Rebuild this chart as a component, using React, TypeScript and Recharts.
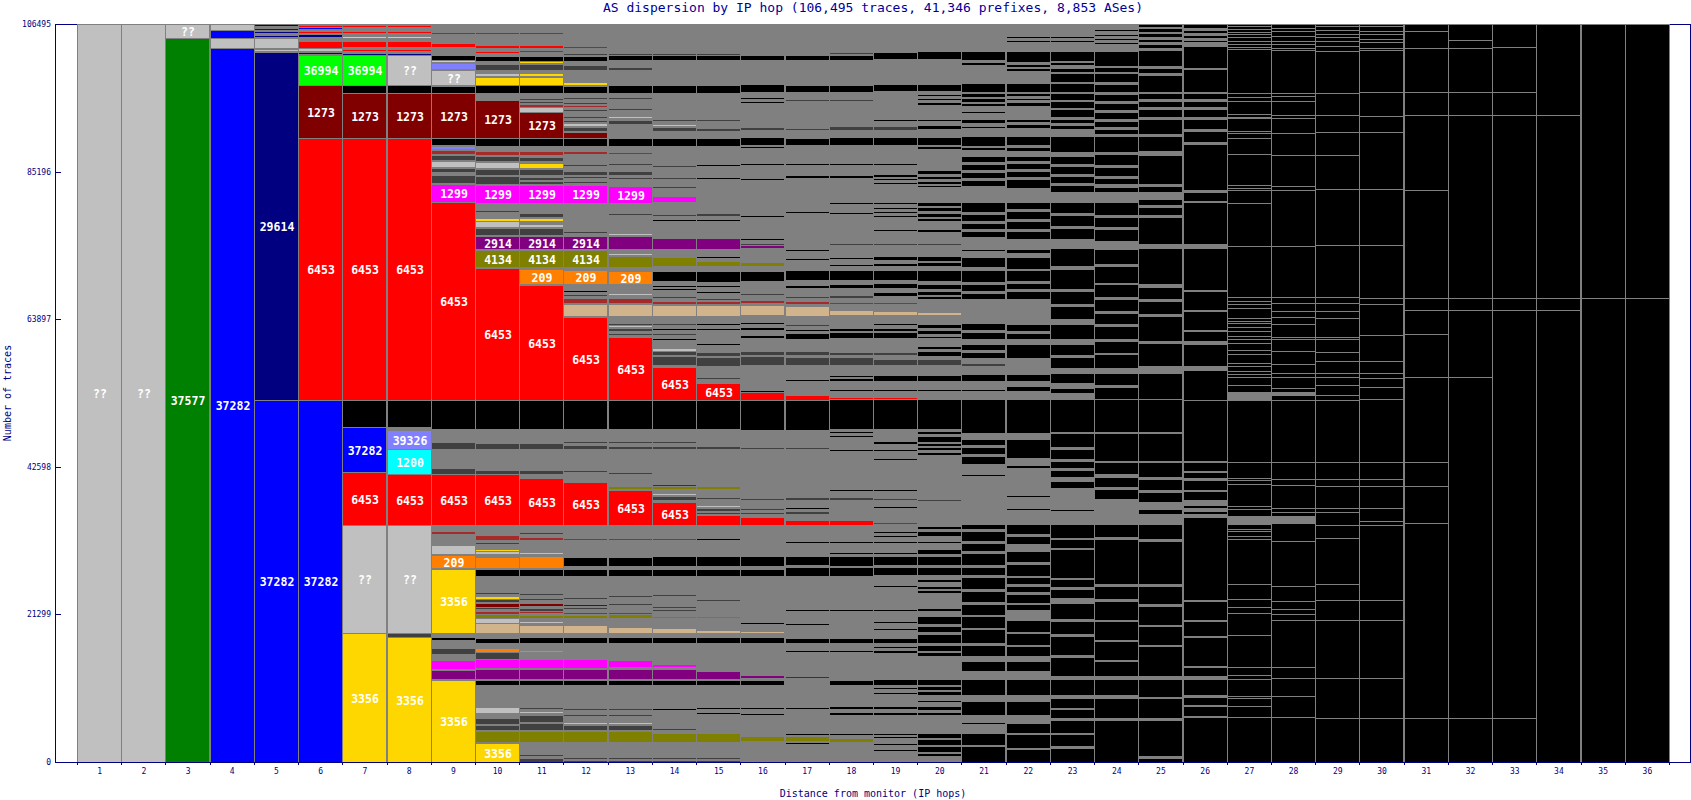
import { Bar, BarChart, XAxis, YAxis } from 'recharts';

if (typeof document !== 'undefined') document.body.style.margin = '0';

type Seg = [string, number, string?];

const palette: Record<string, string> = {
  L: '#c0c0c0', G: '#808080', D: '#404040', K: '#000000', R: '#ff0000',
  DR: '#800000', BR: '#a52a2a', Y: '#ffd700', B: '#0000ff', N: '#000080',
  GR: '#008000', LG: '#00ff00', M: '#ff00ff', P: '#800080', O: '#808000',
  OR: '#ff8000', T: '#d2b48c', LB: '#8080ff', C: '#00ffff',
};

const hopLabels = ['1', '2', '3', '4', '5', '6', '7', '8', '9', '10', '11', '12', '13', '14', '15', '16', '17', '18',
  '19', '20', '21', '22', '23', '24', '25', '26', '27', '28', '29', '30', '31', '32', '33', '34', '35', '36'];
const yTicks = [0, 21299, 42598, 63897, 85196, 106495];

// segments listed top -> bottom: [colour, traces, AS label]
const hop1: Seg[] = [['L', 106495, '??']];
const hop2: Seg[] = [['L', 106495, '??']];
const hop3: Seg[] = [['L', 2020, '??'], ['GR', 104475, '37577']];
const hop4: Seg[] = [['L', 920], ['B', 1100], ['L', 1440], ['B', 103030, '37282']];
const hop5: Seg[] = [['N', 250], ['G', 330], ['B', 250], ['G', 250], ['N', 230], ['G', 250], ['N', 390], ['G', 90],
  ['L', 1440], ['G', 140], ['L', 350], ['G', 140], ['N', 50120, '29614'], ['B', 52280, '37282']];
const hop6: Seg[] = [['G', 100], ['R', 290], ['G', 100], ['B', 290], ['G', 220], ['R', 290], ['G', 220], ['N', 430],
  ['G', 580], ['R', 910], ['G', 100], ['L', 430], ['G', 140], ['N', 290], ['G', 90], ['LG', 4390, '36994'],
  ['DR', 7590, '1273'], ['R', 37760, '6453'], ['B', 52280, '37282']];
const hop7: Seg[] = [['G', 170], ['R', 290], ['G', 580], ['R', 290], ['G', 430], ['Y', 290], ['G', 460], ['R', 870],
  ['G', 260], ['R', 290], ['G', 290], ['N', 260], ['LG', 4390, '36994'], ['K', 1100], ['DR', 6490, '1273'],
  ['R', 37760, '6453'], ['K', 3900], ['B', 6490, '37282'], ['R', 7650, '6453'], ['L', 15580, '??'], ['Y', 18660, '3356']];
const hop8: Seg[] = [['G', 170], ['R', 290], ['G', 580], ['R', 290], ['G', 430], ['Y', 290], ['G', 460], ['R', 870],
  ['G', 260], ['R', 290], ['G', 290], ['N', 260], ['L', 4390, '??'], ['K', 1100], ['DR', 6490, '1273'],
  ['R', 37760, '6453'], ['K', 3900], ['G', 430], ['LB', 2740, '39326'], ['C', 3610, '1200'], ['R', 7360, '6453'],
  ['L', 15580, '??'], ['D', 620], ['Y', 18040, '3356']];
const hop9: Seg[] = [['G', 1150], ['R', 290], ['G', 1360], ['R', 520], ['G', 1210], ['K', 720], ['Y', 290], ['G', 90],
  ['LB', 920], ['G', 140], ['L', 2110, '??'], ['G', 100], ['K', 1010], ['G', 100], ['DR', 6440, '1273'], ['K', 1070],
  ['G', 140], ['LB', 430], ['G', 140], ['BR', 520], ['G', 200], ['D', 660], ['G', 200], ['L', 810], ['G', 140],
  ['D', 580], ['G', 490], ['D', 1050], ['G', 250], ['M', 2600, '1299'], ['R', 28470, '6453'], ['K', 4180], ['G', 1980],
  ['D', 910], ['G', 2600], ['L', 140], ['D', 870], ['R', 7360, '6453'], ['G', 870], ['BR', 430], ['G', 1590],
  ['L', 1300], ['G', 140], ['OR', 1880, '209'], ['G', 140], ['Y', 9240, '3356'], ['G', 580], ['K', 530], ['G', 1050],
  ['D', 870], ['G', 870], ['M', 1300], ['G', 140], ['P', 1300], ['G', 140], ['Y', 11880, '3356']];
const hop10: Seg[] = [['G', 1150], ['R', 290], ['G', 1590], ['R', 390], ['G', 360], ['R', 290], ['G', 460], ['K', 720],
  ['G', 430], ['D', 910], ['G', 360], ['L', 510], ['G', 100], ['Y', 1240], ['K', 1150], ['G', 970], ['DR', 5530, '1273'],
  ['K', 1110], ['G', 720], ['BR', 580], ['G', 140], ['D', 720], ['G', 140], ['L', 870], ['G', 140], ['D', 870],
  ['G', 140], ['D', 1150], ['G', 140], ['M', 2600, '1299'], ['G', 970], ['D', 380], ['G', 780], ['Y', 480], ['L', 820],
  ['G', 230], ['D', 970], ['G', 140], ['P', 1830, '2914'], ['G', 140], ['O', 2450, '4134'], ['G', 140],
  ['R', 19090, '6453'], ['K', 4180], ['G', 2060], ['D', 820], ['G', 2990], ['D', 660], ['R', 7320, '6453'], ['G', 680],
  ['P', 230], ['G', 530], ['BR', 720], ['G', 250], ['D', 330], ['G', 720], ['Y', 290], ['L', 430], ['G', 390],
  ['OR', 1670], ['G', 100], ['K', 1010], ['G', 2380], ['D', 290], ['G', 220], ['Y', 510], ['D', 360], ['G', 220],
  ['DR', 510], ['D', 360], ['G', 220], ['BR', 430], ['O', 650], ['L', 720], ['T', 1410], ['G', 630], ['K', 810],
  ['G', 750], ['OR', 580], ['D', 980], ['M', 1300], ['G', 100], ['P', 1440], ['G', 140], ['K', 720], ['G', 3250],
  ['L', 840], ['G', 630], ['D', 950], ['G', 100], ['D', 760], ['G', 100], ['O', 1630], ['G', 140], ['Y', 2740, '3356']];
const hop11: Seg[] = [['G', 1150], ['R', 290], ['G', 1590], ['R', 390], ['G', 360], ['R', 290], ['G', 460], ['K', 720],
  ['G', 120], ['Y', 290], ['G', 70], ['D', 870], ['G', 430], ['Y', 430], ['G', 220], ['Y', 1130], ['K', 1150],
  ['G', 680], ['D', 290], ['G', 140], ['D', 290], ['G', 220], ['BR', 360], ['L', 680], ['DR', 3840, '1273'],
  ['K', 1110], ['G', 790], ['BR', 510], ['G', 290], ['D', 580], ['G', 290], ['Y', 720], ['G', 140], ['D', 870],
  ['G', 290], ['D', 360], ['G', 140], ['D', 510], ['G', 140], ['M', 2600, '1299'], ['G', 1440], ['D', 530], ['G', 140],
  ['Y', 480], ['G', 430], ['L', 430], ['G', 190], ['D', 970], ['G', 140], ['P', 1830, '2914'], ['G', 140],
  ['O', 2450, '4134'], ['G', 290], ['OR', 2210, '209'], ['G', 140], ['R', 16590, '6453'], ['K', 4180], ['G', 2060],
  ['D', 820], ['G', 3030], ['D', 620], ['G', 580], ['R', 6740, '6453'], ['G', 1010], ['D', 290], ['G', 430],
  ['BR', 430], ['G', 1800], ['L', 290], ['G', 320], ['OR', 1670], ['G', 140], ['K', 970], ['G', 2450], ['D', 290],
  ['G', 430], ['D', 290], ['G', 510], ['DR', 430], ['G', 220], ['D', 430], ['BR', 290], ['G', 290], ['O', 510],
  ['G', 430], ['L', 290], ['G', 220], ['T', 1200], ['G', 630], ['K', 810], ['G', 1040], ['OR', 290], ['G', 980],
  ['M', 1300], ['G', 100], ['P', 1440], ['G', 140], ['K', 720], ['G', 3170], ['D', 290], ['G', 360], ['L', 290],
  ['G', 220], ['D', 1010], ['G', 140], ['D', 1010], ['G', 140], ['O', 1630], ['G', 1760], ['D', 290], ['G', 220],
  ['D', 620]];
const hop12: Seg[] = [['G', 3130], ['R', 290], ['G', 720], ['D', 290], ['G', 100], ['K', 720], ['G', 580], ['D', 760],
  ['G', 1690], ['Y', 480], ['G', 140], ['K', 1010], ['G', 650], ['D', 290], ['G', 430], ['D', 290], ['G', 140],
  ['BR', 290], ['G', 290], ['D', 290], ['G', 720], ['D', 290], ['G', 220], ['D', 290], ['G', 190], ['L', 390],
  ['G', 100], ['D', 620], ['G', 100], ['DR', 950], ['K', 1110], ['G', 790], ['BR', 430], ['G', 1440], ['D', 290],
  ['G', 650], ['D', 580], ['G', 220], ['D', 290], ['G', 360], ['D', 360], ['G', 220], ['M', 2600, '1299'], ['G', 4110],
  ['D', 290], ['G', 360], ['P', 1830, '2914'], ['G', 140], ['O', 2450, '4134'], ['G', 430], ['OR', 2060, '209'],
  ['G', 870], ['K', 290], ['G', 290], ['D', 290], ['G', 330], ['BR', 630], ['G', 230], ['T', 1650], ['G', 230],
  ['R', 11930, '6453'], ['K', 4180], ['G', 1730], ['D', 290], ['G', 290], ['D', 580], ['G', 3030], ['D', 360],
  ['G', 1410], ['R', 6160, '6453'], ['G', 1880], ['BR', 290], ['G', 2410], ['K', 1340], ['G', 430], ['K', 1010],
  ['G', 3030], ['D', 360], ['G', 650], ['DR', 290], ['G', 140], ['D', 290], ['G', 430], ['BR', 290], ['G', 140],
  ['O', 510], ['G', 1040], ['T', 1100], ['G', 630], ['K', 810], ['G', 2310], ['M', 1300], ['G', 100], ['P', 1440],
  ['G', 140], ['K', 720], ['G', 3320], ['D', 290], ['G', 580], ['D', 290], ['G', 940], ['L', 220], ['G', 140],
  ['D', 720], ['G', 140], ['O', 1630], ['G', 2120], ['D', 360], ['G', 70], ['D', 330]];
const hop13: Seg[] = [['G', 4210], ['D', 220], ['G', 100], ['K', 720], ['G', 910], ['D', 430], ['G', 2210], ['K', 1110],
  ['G', 650], ['D', 220], ['G', 430], ['D', 220], ['G', 650], ['D', 290], ['G', 870], ['L', 290], ['G', 290],
  ['D', 580], ['G', 2060], ['K', 1110], ['G', 870], ['BR', 290], ['G', 1370], ['D', 290], ['G', 790], ['D', 580],
  ['G', 290], ['D', 290], ['G', 970], ['M', 2500, '1299'], ['G', 1490], ['D', 290], ['G', 2630], ['L', 220], ['G', 140],
  ['P', 1880], ['G', 530], ['L', 330], ['G', 140], ['O', 1540], ['G', 620], ['OR', 1880, '209'], ['G', 1300],
  ['L', 250], ['D', 260], ['G', 260], ['BR', 630], ['G', 230], ['T', 1650], ['G', 1050], ['D', 290], ['G', 70],
  ['L', 220], ['G', 140], ['D', 430], ['G', 290], ['D', 290], ['G', 250], ['R', 9130, '6453'], ['K', 4180], ['G', 1730],
  ['D', 290], ['G', 430], ['D', 430], ['G', 3320], ['D', 290], ['G', 1590], ['P', 220], ['O', 430], ['G', 70],
  ['R', 5050, '6453'], ['G', 1880], ['BR', 290], ['G', 2410], ['K', 1340], ['G', 430], ['K', 1010], ['G', 2740],
  ['D', 360], ['G', 790], ['D', 290], ['G', 1080], ['BR', 220], ['O', 650], ['G', 1330], ['T', 810], ['G', 630],
  ['K', 810], ['G', 2510], ['M', 950], ['G', 350], ['P', 1340], ['G', 140], ['K', 720], ['G', 3320], ['D', 290],
  ['G', 580], ['D', 290], ['G', 940], ['L', 220], ['G', 140], ['D', 720], ['G', 140], ['O', 1630], ['G', 2120],
  ['D', 360], ['G', 70], ['D', 330]];
const hop14: Seg[] = [['G', 4210], ['D', 220], ['G', 100], ['K', 720], ['G', 3550], ['K', 1110], ['G', 720], ['D', 220],
  ['G', 360], ['D', 220], ['G', 790], ['D', 220], ['G', 1230], ['D', 360], ['G', 360], ['L', 290], ['G', 140],
  ['D', 580], ['G', 1050], ['K', 1110], ['G', 1010], ['BR', 220], ['G', 1590], ['D', 220], ['G', 1440], ['D', 360],
  ['G', 940], ['D', 290], ['G', 1260], ['M', 870], ['G', 1630], ['D', 360], ['G', 430], ['K', 220], ['G', 2500],
  ['P', 1590], ['G', 1210], ['O', 1300], ['G', 720], ['K', 1440], ['G', 550], ['K', 220], ['G', 220], ['K', 220],
  ['G', 870], ['D', 290], ['G', 430], ['BR', 430], ['G', 140], ['T', 1590], ['G', 1010], ['D', 290], ['G', 430],
  ['K', 290], ['G', 430], ['D', 290], ['G', 430], ['K', 290], ['G', 1150], ['L', 430], ['G', 100], ['D', 580],
  ['G', 140], ['D', 1300], ['G', 190], ['R', 4760, '6453'], ['K', 4180], ['G', 1730], ['D', 290], ['G', 430], ['D', 430],
  ['G', 5120], ['P', 220], ['O', 510], ['G', 580], ['L', 290], ['G', 140], ['D', 580], ['G', 220], ['R', 3320, '6453'],
  ['G', 1880], ['BR', 290], ['G', 2410], ['K', 1340], ['G', 430], ['K', 1010], ['G', 2600], ['D', 290], ['G', 1440],
  ['D', 290], ['G', 140], ['D', 290], ['G', 720], ['O', 290], ['G', 1490], ['T', 720], ['G', 630], ['K', 810],
  ['G', 3060], ['M', 400], ['G', 350], ['P', 1340], ['G', 140], ['K', 720], ['G', 3390], ['K', 220], ['G', 430],
  ['K', 220], ['G', 1950], ['D', 290], ['G', 430], ['O', 1340], ['G', 2190], ['D', 220], ['G', 220], ['D', 260]];
const hop15: Seg[] = [['G', 4210], ['D', 220], ['G', 100], ['K', 720], ['G', 3550], ['K', 1110], ['G', 720], ['D', 220],
  ['G', 360], ['D', 220], ['G', 790], ['D', 220], ['G', 1230], ['D', 290], ['G', 1010], ['D', 430], ['G', 720],
  ['D', 220], ['G', 120], ['K', 1110], ['G', 140], ['K', 220], ['G', 2240], ['K', 290], ['G', 1590], ['K', 290],
  ['G', 4950], ['D', 460], ['G', 430], ['K', 220], ['G', 2500], ['P', 1590], ['G', 1040], ['K', 260], ['G', 390],
  ['O', 820], ['G', 720], ['K', 1490], ['G', 510], ['K', 220], ['G', 580], ['K', 290], ['G', 720], ['D', 290],
  ['G', 140], ['BR', 430], ['G', 140], ['T', 1590], ['G', 1010], ['K', 290], ['G', 430], ['K', 290], ['G', 1880],
  ['K', 290], ['G', 970], ['D', 620], ['G', 100], ['D', 1300], ['G', 1340], ['D', 220], ['G', 140], ['D', 220],
  ['G', 620], ['R', 2410, '6453'], ['K', 4180], ['G', 1730], ['D', 220], ['G', 510], ['D', 430], ['G', 5190], ['P', 220],
  ['O', 430], ['G', 1150], ['D', 290], ['G', 870], ['L', 220], ['G', 140], ['D', 430], ['G', 140], ['D', 360], ['G', 70],
  ['R', 1440], ['G', 1950], ['K', 220], ['G', 2410], ['K', 1340], ['G', 430], ['K', 1010], ['G', 3320], ['D', 290],
  ['G', 2160], ['O', 290], ['G', 1730], ['T', 480], ['G', 630], ['K', 810], ['G', 4000], ['P', 1150], ['G', 140],
  ['K', 720], ['G', 3250], ['K', 220], ['G', 430], ['K', 290], ['G', 2810], ['O', 1270], ['G', 2190], ['D', 220],
  ['G', 220], ['D', 260]];
const hop16: Seg[] = [['G', 4210], ['D', 220], ['G', 100], ['K', 720], ['G', 3550], ['K', 1110], ['G', 720], ['K', 220],
  ['G', 360], ['K', 220], ['G', 3540], ['D', 430], ['G', 1050], ['K', 1110], ['G', 140], ['K', 220], ['G', 2240],
  ['K', 220], ['G', 1590], ['K', 220], ['G', 140], ['K', 290], ['G', 3250], ['K', 220], ['G', 1230], ['K', 220],
  ['G', 140], ['K', 220], ['G', 3100], ['K', 220], ['G', 510], ['D', 290], ['P', 360], ['G', 2020], ['O', 610],
  ['G', 720], ['K', 1490], ['G', 510], ['K', 220], ['G', 1010], ['D', 290], ['G', 720], ['BR', 360], ['G', 290],
  ['T', 1520], ['G', 1010], ['K', 290], ['G', 430], ['K', 430], ['G', 650], ['K', 510], ['G', 1880], ['D', 530],
  ['G', 190], ['D', 1260], ['G', 1200], ['K', 220], ['G', 220], ['K', 220], ['G', 1760], ['K', 190], ['G', 100],
  ['R', 1050], ['K', 4330], ['G', 2450], ['D', 290], ['G', 5920], ['K', 220], ['G', 940], ['D', 290], ['G', 1150],
  ['D', 290], ['G', 290], ['D', 290], ['G', 510], ['R', 1080], ['G', 2310], ['K', 220], ['G', 2050], ['K', 1340],
  ['G', 430], ['K', 1010], ['G', 4760], ['K', 220], ['G', 1730], ['K', 220], ['G', 1010], ['T', 330], ['G', 630],
  ['K', 810], ['G', 4430], ['D', 220], ['P', 430], ['G', 220], ['K', 720], ['G', 3250], ['K', 220], ['G', 580],
  ['K', 290], ['G', 2740], ['K', 220], ['G', 140], ['O', 720], ['G', 3000]];
const hop17: Seg[] = [['G', 4180], ['D', 250], ['G', 100], ['K', 720], ['G', 3610], ['K', 1010], ['G', 720], ['D', 190],
  ['G', 140], ['D', 220], ['G', 3870], ['D', 390], ['G', 1050], ['K', 1110], ['G', 2600], ['K', 250], ['G', 1440],
  ['K', 380], ['G', 3610], ['K', 250], ['G', 970], ['K', 230], ['G', 4470], ['D', 200], ['G', 620], ['K', 220],
  ['G', 980], ['K', 250], ['G', 720], ['K', 250], ['G', 580], ['K', 1440], ['G', 620], ['K', 480], ['G', 1110],
  ['D', 330], ['G', 490], ['BR', 330], ['G', 390], ['T', 1340], ['G', 1230], ['D', 220], ['G', 480], ['K', 350],
  ['G', 230], ['K', 820], ['G', 1830], ['D', 580], ['G', 290], ['D', 1150], ['G', 1490], ['K', 220], ['G', 260],
  ['K', 350], ['G', 1340], ['K', 220], ['G', 360], ['R', 720], ['K', 4330], ['G', 2550], ['D', 230], ['G', 5770],
  ['K', 200], ['G', 1010], ['D', 430], ['G', 950], ['K', 250], ['G', 390], ['D', 330], ['G', 870], ['R', 720],
  ['G', 1590], ['K', 220], ['G', 610], ['K', 230], ['G', 1930], ['K', 1300], ['G', 290], ['K', 1200], ['G', 4760],
  ['K', 290], ['G', 1770], ['K', 250], ['G', 870], ['T', 250], ['G', 810], ['K', 720], ['G', 1070], ['K', 230],
  ['G', 3520], ['P', 290], ['G', 4080], ['K', 330], ['G', 390], ['K', 220], ['G', 2860], ['K', 350], ['G', 140],
  ['O', 720], ['G', 140], ['K', 190], ['G', 2640]];
const hop18: Seg[] = [['G', 4180], ['D', 250], ['G', 100], ['K', 720], ['G', 3610], ['K', 1010], ['G', 720], ['D', 190],
  ['G', 140], ['D', 220], ['G', 3640], ['D', 620], ['G', 1050], ['K', 1110], ['G', 2600], ['K', 250], ['G', 1440],
  ['K', 380], ['G', 140], ['K', 200], ['G', 3260], ['K', 250], ['G', 620], ['K', 250], ['G', 290], ['K', 220],
  ['G', 140], ['K', 220], ['G', 3900], ['D', 290], ['G', 1630], ['K', 390], ['G', 620], ['K', 350], ['G', 580],
  ['K', 1440], ['G', 620], ['K', 530], ['G', 1050], ['D', 330], ['G', 630], ['BR', 260], ['G', 890], ['T', 760],
  ['G', 1920], ['K', 350], ['G', 230], ['K', 820], ['G', 1110], ['K', 230], ['G', 630], ['D', 430], ['G', 380],
  ['D', 1070], ['G', 1490], ['K', 250], ['G', 230], ['K', 350], ['G', 1200], ['K', 250], ['G', 810], ['R', 390],
  ['K', 4330], ['G', 250], ['K', 230], ['G', 350], ['K', 230], ['G', 720], ['K', 250], ['G', 870], ['K', 290],
  ['G', 5480], ['K', 220], ['G', 940], ['D', 430], ['G', 910], ['K', 250], ['G', 480], ['D', 250], ['G', 1010],
  ['R', 580], ['G', 1590], ['K', 220], ['G', 610], ['K', 230], ['G', 1360], ['K', 230], ['G', 350], ['K', 1340],
  ['G', 250], ['K', 1200], ['G', 2160], ['K', 220], ['G', 2380], ['K', 390], ['G', 2540], ['K', 200], ['G', 1100],
  ['K', 720], ['G', 390], ['K', 220], ['G', 460], ['K', 230], ['G', 3320], ['D', 200], ['G', 480], ['K', 720],
  ['G', 720], ['K', 250], ['G', 2160], ['K', 380], ['G', 390], ['K', 430], ['G', 2640], ['K', 350], ['G', 380],
  ['O', 580], ['G', 140], ['K', 170], ['G', 2570]];
const hop19: Seg[] = [['G', 4180], ['K', 1070], ['G', 3610], ['K', 1010], ['G', 480], ['K', 220], ['G', 360], ['K', 220],
  ['G', 220], ['K', 220], ['G', 2240], ['K', 250], ['G', 720], ['D', 620], ['G', 1050], ['K', 1110], ['G', 2600],
  ['K', 250], ['G', 1340], ['K', 480], ['G', 140], ['K', 200], ['G', 380], ['K', 250], ['G', 2640], ['K', 250],
  ['G', 430], ['K', 290], ['G', 290], ['K', 290], ['G', 290], ['K', 290], ['G', 1730], ['K', 250], ['G', 1770],
  ['D', 290], ['G', 1630], ['K', 490], ['G', 480], ['K', 390], ['G', 580], ['K', 1440], ['G', 480], ['K', 720],
  ['G', 620], ['K', 490], ['G', 870], ['BR', 260], ['G', 1130], ['T', 530], ['G', 1150], ['K', 250], ['G', 520],
  ['K', 350], ['G', 230], ['K', 820], ['G', 1110], ['K', 230], ['G', 720], ['D', 350], ['G', 620], ['D', 820],
  ['G', 1490], ['K', 820], ['G', 1200], ['K', 250], ['G', 910], ['R', 290], ['K', 4330], ['G', 250], ['K', 230],
  ['G', 350], ['K', 230], ['G', 720], ['K', 390], ['G', 250], ['K', 230], ['G', 250], ['K', 290], ['G', 1050],
  ['K', 250], ['G', 4180], ['K', 220], ['G', 1040], ['D', 290], ['G', 950], ['K', 250], ['G', 480], ['D', 250],
  ['G', 1200], ['R', 390], ['G', 970], ['K', 330], ['G', 290], ['K', 220], ['G', 610], ['K', 230], ['G', 1360],
  ['K', 230], ['G', 350], ['K', 1340], ['G', 250], ['K', 1200], ['G', 680], ['K', 190], ['G', 580], ['K', 220],
  ['G', 3100], ['K', 390], ['G', 1440], ['K', 260], ['G', 220], ['K', 220], ['G', 290], ['K', 220], ['G', 1200],
  ['K', 720], ['G', 490], ['K', 230], ['G', 350], ['K', 380], ['G', 3130], ['D', 220], ['G', 430], ['K', 790],
  ['G', 290], ['K', 290], ['G', 430], ['K', 290], ['G', 1830], ['K', 380], ['G', 390], ['K', 430], ['G', 2640],
  ['K', 350], ['G', 140], ['K', 230], ['G', 250], ['K', 250], ['G', 230], ['K', 250], ['G', 620], ['K', 250], ['G', 1630]];
const hop20: Seg[] = [['G', 4100], ['K', 1150], ['G', 520], ['K', 200], ['G', 2790], ['K', 1110], ['G', 330], ['K', 290],
  ['G', 290], ['K', 360], ['G', 220], ['K', 510], ['G', 1950], ['K', 390], ['G', 580], ['K', 480], ['G', 1200],
  ['K', 1110], ['G', 140], ['K', 430], ['G', 2020], ['K', 250], ['G', 870], ['K', 480], ['G', 290], ['K', 430],
  ['G', 360], ['K', 360], ['G', 220], ['K', 290], ['G', 2140], ['K', 490], ['G', 190], ['K', 580], ['G', 290],
  ['K', 580], ['G', 220], ['K', 320], ['G', 1200], ['K', 480], ['G', 1540], ['D', 290], ['G', 1630], ['K', 680],
  ['G', 220], ['K', 550], ['G', 490], ['K', 1590], ['G', 480], ['K', 720], ['G', 290], ['K', 510], ['G', 220],
  ['K', 430], ['G', 1920], ['T', 320], ['G', 1370], ['K', 580], ['G', 290], ['K', 580], ['G', 220], ['K', 360],
  ['G', 1110], ['K', 480], ['G', 290], ['K', 680], ['G', 480], ['D', 820], ['G', 1490], ['K', 820], ['G', 1200],
  ['K', 250], ['G', 1200], ['K', 4330], ['G', 250], ['K', 400], ['G', 290], ['K', 840], ['G', 170], ['K', 430],
  ['G', 140], ['K', 430], ['G', 290], ['K', 460], ['G', 6390], ['D', 220], ['G', 980], ['K', 250], ['G', 2410],
  ['K', 480], ['G', 250], ['K', 720], ['G', 720], ['K', 230], ['G', 870], ['K', 720], ['G', 350], ['K', 1340],
  ['G', 250], ['K', 1200], ['G', 580], ['K', 430], ['G', 510], ['K', 430], ['G', 220], ['K', 360], ['G', 1410],
  ['K', 250], ['G', 580], ['K', 390], ['G', 720], ['K', 1200], ['G', 220], ['K', 940], ['G', 220], ['K', 1270],
  ['G', 250], ['K', 870], ['G', 220], ['K', 610], ['G', 2640], ['D', 220], ['G', 400], ['K', 820], ['G', 220],
  ['K', 510], ['G', 220], ['K', 510], ['G', 820], ['K', 230], ['G', 630], ['K', 480], ['G', 290], ['K', 430],
  ['G', 2640], ['K', 680], ['G', 220], ['K', 790], ['G', 220], ['K', 790], ['G', 220], ['K', 460], ['G', 810]];
const hop21: Seg[] = [['G', 3950], ['K', 1300], ['G', 380], ['K', 350], ['G', 2680], ['K', 1210], ['G', 190], ['K', 580],
  ['G', 220], ['K', 510], ['G', 220], ['K', 320], ['G', 720], ['K', 330], ['G', 870], ['K', 580], ['G', 390], ['K', 380],
  ['G', 1150], ['K', 1360], ['G', 140], ['K', 430], ['G', 870], ['K', 910], ['G', 220], ['K', 940], ['G', 220],
  ['K', 940], ['G', 220], ['K', 890], ['G', 2400], ['K', 1400], ['G', 220], ['K', 1080], ['G', 220], ['K', 940],
  ['G', 220], ['K', 840], ['G', 1830], ['K', 220], ['G', 840], ['K', 1440], ['G', 490], ['K', 1730], ['G', 330],
  ['K', 1010], ['G', 220], ['K', 940], ['G', 3460], ['K', 1010], ['G', 220], ['K', 1080], ['G', 720], ['K', 870],
  ['G', 220], ['K', 840], ['G', 720], ['D', 490], ['G', 1200], ['K', 970], ['G', 1200], ['K', 250], ['G', 1200],
  ['K', 4910], ['G', 760], ['K', 970], ['G', 220], ['K', 1080], ['G', 220], ['K', 1230], ['G', 1440], ['K', 250],
  ['G', 1820], ['K', 200], ['G', 1240], ['D', 250], ['G', 1050], ['K', 250], ['G', 2160], ['K', 720], ['G', 250],
  ['K', 1440], ['G', 230], ['K', 1210], ['G', 230], ['K', 1830], ['G', 250], ['K', 1200], ['G', 290], ['K', 1730],
  ['G', 220], ['K', 1660], ['G', 220], ['K', 1520], ['G', 220], ['K', 1660], ['G', 220], ['K', 1990], ['G', 250],
  ['K', 1690], ['G', 720], ['K', 1440], ['G', 1100], ['K', 2270], ['G', 870], ['K', 2020], ['G', 1010], ['K', 290],
  ['G', 1300], ['K', 1730], ['G', 220], ['K', 2280]];
const hop22: Seg[] = [['G', 1880], ['K', 250], ['G', 290], ['K', 330], ['G', 1300], ['K', 1590], ['G', 250], ['K', 360],
  ['G', 220], ['K', 390], ['G', 1820], ['K', 1210], ['G', 190], ['K', 430], ['G', 220], ['K', 360], ['G', 220],
  ['K', 690], ['G', 1830], ['K', 430], ['G', 220], ['K', 690], ['G', 1150], ['K', 1260], ['G', 220], ['K', 610],
  ['G', 720], ['K', 760], ['G', 220], ['K', 940], ['G', 220], ['K', 940], ['G', 220], ['K', 1270], ['G', 2160],
  ['K', 970], ['G', 220], ['K', 1230], ['G', 220], ['K', 1230], ['G', 220], ['K', 1230], ['G', 1340], ['K', 580],
  ['G', 580], ['K', 1730], ['G', 200], ['K', 1630], ['G', 220], ['K', 940], ['G', 290], ['K', 1150], ['G', 3610],
  ['K', 1010], ['G', 220], ['K', 940], ['G', 720], ['K', 1920], ['G', 2410], ['K', 970], ['G', 720], ['K', 760],
  ['G', 1150], ['K', 4910], ['G', 870], ['K', 2740], ['G', 1010], ['K', 430], ['G', 2930], ['K', 200], ['G', 760],
  ['K', 220], ['G', 1660], ['K', 220], ['G', 2090], ['K', 1440], ['G', 220], ['K', 1230], ['G', 970], ['K', 1630],
  ['G', 220], ['K', 1760], ['G', 190], ['K', 1010], ['G', 220], ['K', 940], ['G', 220], ['K', 1230], ['G', 220],
  ['K', 790], ['G', 1440], ['K', 1730], ['G', 220], ['K', 1660], ['G', 220], ['K', 1470], ['G', 720], ['K', 1440],
  ['G', 1100], ['K', 2270], ['G', 970], ['K', 1920], ['G', 1200], ['K', 1400], ['G', 220], ['K', 1950], ['G', 220],
  ['K', 1850]];
const hop23: Seg[] = [['G', 820], ['K', 220], ['G', 790], ['K', 290], ['G', 290], ['K', 290], ['G', 1340], ['K', 1360],
  ['G', 140], ['K', 480], ['G', 480], ['K', 580], ['G', 140], ['K', 1300], ['G', 140], ['K', 1300], ['G', 170],
  ['K', 940], ['G', 220], ['K', 940], ['G', 220], ['K', 1130], ['G', 250], ['K', 650], ['G', 220], ['K', 580],
  ['G', 1050], ['K', 2220], ['G', 580], ['K', 1200], ['G', 220], ['K', 1230], ['G', 220], ['K', 1080], ['G', 220],
  ['K', 1130], ['G', 1360], ['K', 1630], ['G', 220], ['K', 1660], ['G', 220], ['K', 1660], ['G', 1340], ['K', 2510],
  ['G', 480], ['K', 2890], ['G', 250], ['K', 1920], ['G', 220], ['K', 1950], ['G', 720], ['K', 2160], ['G', 720],
  ['K', 1590], ['G', 220], ['K', 1560], ['G', 720], ['K', 1440], ['G', 720], ['K', 720], ['G', 970], ['K', 4760],
  ['G', 140], ['K', 2020], ['G', 220], ['K', 1520], ['G', 250], ['K', 1050], ['G', 220], ['K', 980], ['G', 680],
  ['K', 1010], ['G', 3030], ['K', 220], ['G', 1950], ['K', 1920], ['G', 250], ['K', 1200], ['G', 170], ['K', 4160],
  ['G', 170], ['K', 1230], ['G', 220], ['K', 1270], ['G', 720], ['K', 2410], ['G', 220], ['K', 1950], ['G', 220],
  ['K', 2810], ['G', 220], ['K', 2770], ['G', 380], ['K', 2270], ['G', 480], ['K', 1400], ['G', 220], ['K', 1270],
  ['G', 250], ['K', 1880], ['G', 220], ['K', 1730], ['G', 220], ['K', 2060]];
const hop24: Seg[] = [['G', 820], ['K', 220], ['G', 510], ['K', 220], ['G', 360], ['K', 220], ['G', 360], ['K', 220],
  ['G', 1040], ['K', 2160], ['G', 230], ['K', 720], ['G', 140], ['K', 1300], ['G', 250], ['K', 1200], ['G', 170],
  ['K', 1080], ['G', 220], ['K', 1080], ['G', 220], ['K', 1080], ['G', 220], ['K', 940], ['G', 220], ['K', 790],
  ['G', 330], ['K', 2220], ['G', 330], ['K', 1590], ['G', 220], ['K', 1370], ['G', 220], ['K', 940], ['G', 430],
  ['K', 720], ['G', 1400], ['K', 1920], ['G', 220], ['K', 1520], ['G', 220], ['K', 1760], ['G', 1100], ['K', 2270],
  ['G', 220], ['K', 2420], ['G', 250], ['K', 1880], ['G', 220], ['K', 1800], ['G', 220], ['K', 1660], ['G', 220],
  ['K', 1950], ['G', 220], ['K', 1700], ['G', 250], ['K', 1920], ['G', 720], ['K', 1830], ['G', 220], ['K', 1800],
  ['K', 4760], ['G', 140], ['K', 4000], ['G', 140], ['K', 1770], ['G', 430], ['K', 1440], ['G', 220], ['K', 1520],
  ['G', 3610], ['K', 1880], ['G', 220], ['K', 6570], ['G', 220], ['K', 1950], ['G', 220], ['K', 2670], ['G', 220],
  ['K', 2670], ['G', 220], ['K', 2670], ['G', 220], ['K', 2190], ['G', 380], ['K', 2270], ['G', 480], ['K', 2890],
  ['G', 250], ['K', 6100]];
const hop25: Seg[] = [['K', 530], ['G', 220], ['K', 510], ['G', 220], ['K', 510], ['G', 220], ['K', 510], ['G', 220],
  ['K', 580], ['G', 320], ['K', 2310], ['G', 380], ['K', 680], ['G', 220], ['K', 2480], ['G', 190], ['K', 870],
  ['G', 220], ['K', 940], ['G', 220], ['K', 1230], ['G', 290], ['K', 2160], ['G', 220], ['K', 2240], ['G', 580],
  ['K', 4180], ['G', 220], ['K', 940], ['G', 1010], ['K', 870], ['G', 220], ['K', 1230], ['G', 220], ['K', 3970],
  ['G', 580], ['K', 5190], ['G', 430], ['K', 1730], ['G', 220], ['K', 1950], ['G', 220], ['K', 3540], ['G', 290],
  ['K', 3420], ['G', 950], ['K', 3850], ['K', 4760], ['G', 140], ['K', 4040], ['G', 140], ['K', 2160], ['G', 290],
  ['K', 1590], ['G', 220], ['K', 1520], ['G', 1010], ['K', 720], ['G', 1440], ['K', 2160], ['G', 220], ['K', 6280],
  ['G', 220], ['K', 2670], ['G', 220], ['K', 2670], ['G', 220], ['K', 2670], ['G', 220], ['K', 4360], ['G', 380],
  ['K', 2550], ['G', 220], ['K', 2860], ['G', 250], ['K', 5300], ['G', 190], ['K', 620]];
const hop26: Seg[] = [['K', 680], ['G', 220], ['K', 510], ['G', 220], ['K', 510], ['G', 220], ['K', 360], ['G', 530],
  ['K', 3120], ['G', 170], ['K', 3350], ['G', 190], ['K', 870], ['G', 220], ['K', 940], ['G', 220], ['K', 1230],
  ['G', 290], ['K', 1440], ['G', 220], ['K', 1660], ['G', 290], ['K', 6640], ['G', 220], ['K', 1330], ['G', 190],
  ['K', 6060], ['G', 580], ['K', 5920], ['G', 220], ['K', 2670], ['G', 220], ['K', 2670], ['G', 220], ['K', 1370],
  ['G', 430], ['K', 3280], ['G', 480], ['K', 4330], ['K', 8900], ['G', 140], ['K', 1200], ['G', 220], ['K', 790],
  ['G', 290], ['K', 1440], ['G', 220], ['K', 1230], ['G', 720], ['K', 430], ['G', 430], ['K', 430], ['G', 430],
  ['K', 11980], ['G', 220], ['K', 2670], ['G', 220], ['K', 2090], ['G', 220], ['K', 4110], ['G', 220], ['K', 1330],
  ['G', 380], ['K', 2270], ['G', 290], ['K', 1150], ['G', 220], ['K', 1370], ['G', 220], ['K', 6460]];
const hop27: Seg[] = [['K', 300], ['K', 360], ['K', 420], ['K', 420], ['K', 420], ['K', 490], ['K', 490], ['K', 350],
  ['K', 420], ['K', 6230], ['K', 560], ['K', 710], ['K', 1750], ['K', 490], ['K', 220], ['K', 1750], ['K', 350],
  ['K', 710], ['K', 2310], ['K', 4490], ['K', 350], ['K', 350], ['K', 1820], ['K', 6230], ['K', 7430], ['K', 490],
  ['K', 560], ['K', 490], ['K', 1400], ['K', 490], ['K', 350], ['K', 560], ['K', 560], ['K', 690], ['K', 490],
  ['K', 560], ['K', 980], ['K', 560], ['K', 1260], ['K', 490], ['K', 710], ['K', 490], ['K', 420], ['K', 1180],
  ['K', 920], ['G', 1180], ['K', 8900], ['K', 2310], ['K', 350], ['K', 560], ['K', 3150], ['K', 490], ['K', 1050],
  ['G', 1050], ['K', 690], ['K', 360], ['K', 690], ['K', 490], ['K', 6520], ['K', 2090], ['K', 1200], ['K', 910],
  ['K', 3150], ['K', 4560], ['K', 1180], ['K', 560], ['K', 2450], ['K', 350], ['K', 1050], ['K', 1620], ['K', 6510]];
const hop28: Seg[] = [['K', 520], ['K', 490], ['K', 690], ['K', 710], ['K', 490], ['K', 560], ['K', 350], ['K', 6090],
  ['K', 420], ['K', 850], ['K', 1960], ['K', 490], ['K', 2090], ['K', 3160], ['K', 4550], ['K', 490], ['K', 8050],
  ['K', 7430], ['K', 840], ['K', 1200], ['K', 910], ['K', 910], ['K', 1890], ['K', 350], ['K', 1760], ['K', 1750],
  ['K', 1400], ['K', 560], ['K', 1540], ['K', 560], ['G', 490], ['K', 690], ['K', 8900], ['K', 2510], ['K', 850],
  ['K', 3360], ['K', 490], ['K', 690], ['G', 910], ['K', 2600], ['K', 6510], ['K', 2250], ['K', 1050], ['K', 840],
  ['K', 760], ['K', 6800], ['K', 1620], ['K', 2580], ['K', 3020], ['K', 6510]];
const hop29: Seg[] = [['K', 300], ['K', 490], ['K', 560], ['K', 560], ['K', 490], ['K', 690], ['K', 710], ['K', 6090],
  ['K', 3160], ['K', 2450], ['K', 3360], ['K', 4890], ['K', 8140], ['K', 7490], ['K', 840], ['K', 1200], ['K', 910],
  ['K', 2800], ['K', 350], ['K', 1760], ['K', 1400], ['K', 1750], ['K', 560], ['K', 1180], ['K', 1410], ['K', 690],
  ['K', 8900], ['K', 2510], ['K', 980], ['K', 3230], ['K', 490], ['K', 1890], ['K', 1960], ['K', 6650], ['K', 2310],
  ['K', 2800], ['K', 8410], ['K', 5740], ['K', 6360]];
const hop30: Seg[] = [['K', 300], ['K', 710], ['K', 350], ['K', 710], ['K', 550], ['K', 850], ['K', 200], ['K', 6160],
  ['K', 3360], ['K', 2320], ['K', 8250], ['K', 8140], ['K', 7630], ['K', 840], ['K', 4420], ['K', 3850], ['K', 1750],
  ['K', 690], ['K', 1270], ['K', 1670], ['K', 9120], ['K', 2510], ['K', 980], ['K', 3230], ['K', 1890], ['K', 490],
  ['K', 10920], ['K', 2800], ['K', 8410], ['K', 5740], ['K', 6360]];
const hop31: Seg[] = [['K', 981], ['K', 2482], ['K', 6364], ['K', 3362], ['K', 10794], ['K', 15556], ['K', 1746],
  ['K', 3506], ['K', 6162], ['K', 12193], ['K', 3492], ['K', 5325], ['K', 28167], ['K', 6364]];
const hop32: Seg[] = [['K', 2338], ['K', 1126], ['K', 6364], ['K', 3362], ['K', 26349], ['K', 1746], ['K', 9668],
  ['K', 49177], ['K', 6364]];
const hop33: Seg[] = [['K', 3319], ['K', 6508], ['K', 3362], ['K', 26349], ['K', 1746], ['K', 58846], ['K', 6364]];
const hop34: Seg[] = [['K', 13189], ['K', 26349], ['K', 1746], ['K', 65209]];
const hop35: Seg[] = [['K', 39538], ['K', 66955]];
const hop36: Seg[] = [['K', 39538], ['K', 66955]];

const hops: Seg[][] = [hop1, hop2, hop3, hop4, hop5, hop6, hop7, hop8, hop9, hop10, hop11, hop12, hop13, hop14, hop15,
  hop16, hop17, hop18, hop19, hop20, hop21, hop22, hop23, hop24, hop25, hop26, hop27, hop28, hop29, hop30, hop31, hop32,
  hop33, hop34, hop35, hop36];

// bottom segment first, as Recharts stacks upward
const stacks = hops.map((h) => [...h].reverse());
const segCount = Math.max(...stacks.map((s) => s.length));
const data = hopLabels.map((hop, i) => {
  const row: Record<string, string | number> = { hop };
  stacks[i].forEach((s, k) => { row[`s${k}`] = s[1]; });
  return row;
});

const NAVY = '#000080';
const MONO = '"DejaVu Sans Mono", monospace';
const HALF_BAND = 22.11;

const renderSeg = (props: any, k: number) => {
  const { x, y, width, height, index } = props;
  const seg = stacks[index]?.[k];
  if (!seg || x == null || y == null) return <g />;
  const x0 = Math.round(x), x1 = Math.round(x + width);
  const y0 = Math.round(y), y1 = Math.round(y + height);
  return (
    <g>
      {y1 > y0 ? (
        <rect x={x0 + 0.5} y={y0 + 0.5} width={x1 - x0} height={y1 - y0} fill={palette[seg[0]]}
          stroke="#808080" strokeWidth={1} shapeRendering="crispEdges" />
      ) : (
        <line x1={x0} x2={x1 + 1} y1={y0 + 0.5} y2={y0 + 0.5} stroke="#808080" shapeRendering="crispEdges" />
      )}
      {seg[2] && (
        <text x={(x0 + x1) / 2 + 1} y={(y0 + y1) / 2 + 1} textAnchor="middle" dominantBaseline="central"
          fill="#ffffff" fontFamily={MONO} fontWeight="bold" fontSize={11.5}>{seg[2]}</text>
      )}
    </g>
  );
};

const YTick = ({ x, y, payload }: any) => {
  const yy = Math.round(y) + 0.5;
  return (
    <g>
      <line x1={x} x2={x + 5} y1={yy} y2={yy} stroke={NAVY} shapeRendering="crispEdges" />
      <text x={x - 5} y={yy} textAnchor="end" dominantBaseline="central" fontSize={8} fontFamily={MONO} fill={NAVY}>
        {payload.value}
      </text>
    </g>
  );
};

const XTick = ({ x, y, payload }: any) => {
  const l = Math.round(x - HALF_BAND) + 0.5;
  const r = Math.round(x + HALF_BAND) + 0.5;
  return (
    <g>
      <line x1={l} x2={l} y1={y} y2={y + 3} stroke={NAVY} shapeRendering="crispEdges" />
      <line x1={r} x2={r} y1={y} y2={y + 3} stroke={NAVY} shapeRendering="crispEdges" />
      <text x={x + 0.5} y={y + 9} textAnchor="middle" dominantBaseline="central" fontSize={8} fontFamily={MONO} fill={NAVY}>
        {payload.value}
      </text>
    </g>
  );
};

export default function App() {
  return (
    <div style={{ position: 'relative', width: 1691, height: 800, background: '#fff', overflow: 'hidden' }}>
      <div style={{ position: 'absolute', left: 55, top: 24, width: 1636, height: 739, boxSizing: 'border-box',
        borderTop: `1px solid ${NAVY}` }} />
      <div style={{ position: 'relative' }}>
        <BarChart width={1691} height={800} data={data} barCategoryGap={0} barGap={0}
          margin={{ top: 24, right: 1, bottom: 0, left: 0 }}>
          <XAxis dataKey="hop" type="category" interval={0} padding={{ left: 21, right: 21 }} height={38}
            axisLine={false} tickLine={false} tickSize={0} tickMargin={0} tick={<XTick />} />
          <YAxis type="number" domain={[0, 106495]} ticks={yTicks} interval={0} allowDataOverflow width={56}
            axisLine={false} tickLine={false} tickSize={0} tickMargin={0} tick={<YTick />} />
          {Array.from({ length: segCount }, (_, k) => (
            <Bar key={k} dataKey={`s${k}`} stackId="a" isAnimationActive={false}
              shape={(p: any) => renderSeg(p, k)} />
          ))}
        </BarChart>
      </div>
      <div style={{ position: 'absolute', left: 55, top: 24, width: 1636, height: 739, boxSizing: 'border-box',
        borderLeft: `1px solid ${NAVY}`, borderRight: `1px solid ${NAVY}`, borderBottom: `1px solid ${NAVY}`,
        pointerEvents: 'none' }} />
      <div style={{ position: 'absolute', left: 55, top: 0, width: 1636, textAlign: 'center', fontFamily: MONO,
        fontSize: 13, lineHeight: '16px', color: '#000099', whiteSpace: 'nowrap' }}>
        AS dispersion by IP hop (106,495 traces, 41,346 prefixes, 8,853 ASes)
      </div>
      <div style={{ position: 'absolute', left: 55, top: 788, width: 1636, textAlign: 'center', fontFamily: MONO,
        fontSize: 10, lineHeight: '12px', color: NAVY, whiteSpace: 'nowrap' }}>
        Distance from monitor (IP hops)
      </div>
      <div style={{ position: 'absolute', left: 8, top: 393, transform: 'translate(-50%, -50%) rotate(-90deg)',
        fontFamily: MONO, fontSize: 10, lineHeight: '12px', color: NAVY, whiteSpace: 'nowrap' }}>
        Number of traces
      </div>
    </div>
  );
}
